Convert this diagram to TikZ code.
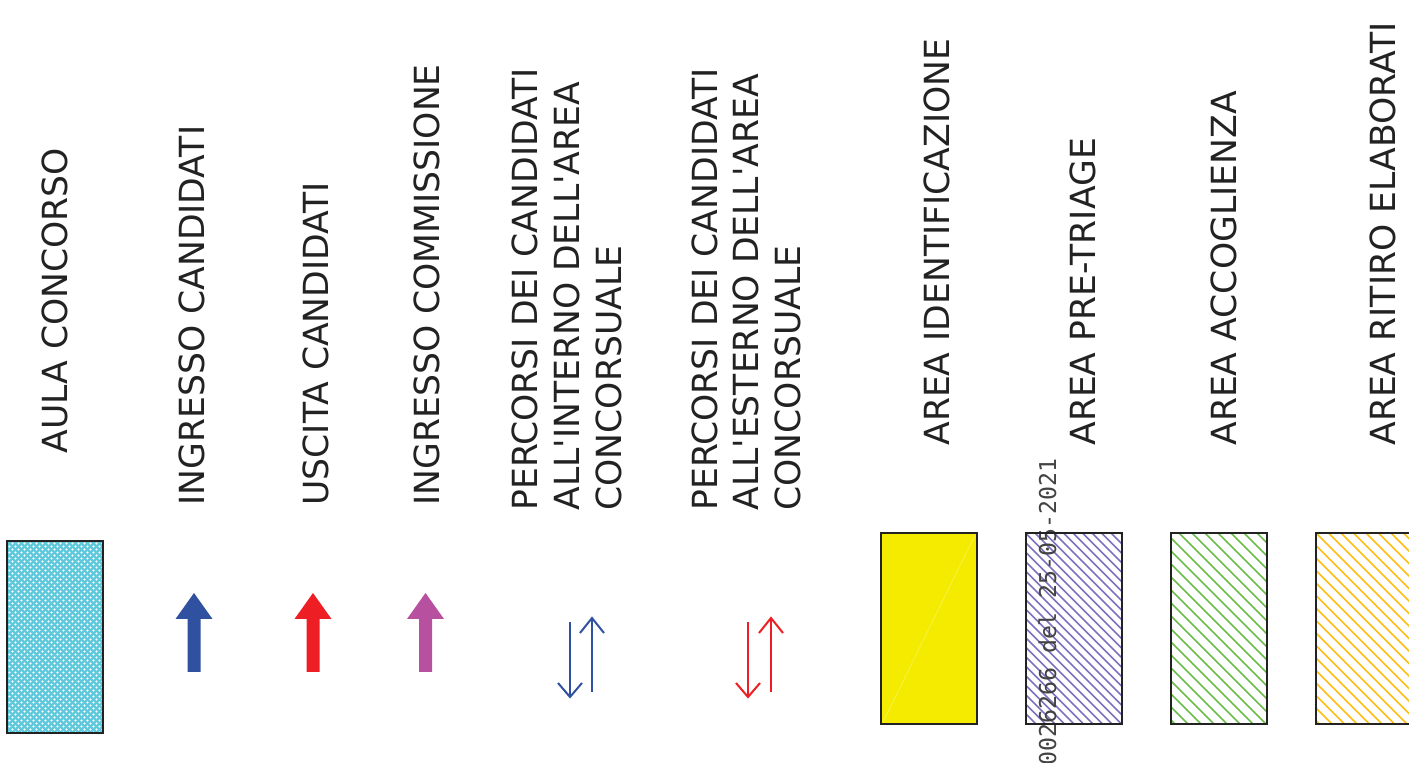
\documentclass[tikz,border=0pt]{standalone}
\usepackage{fontspec}
\setmainfont{DejaVu Sans}
\newfontfamily\wmfont{DejaVu Sans Mono}
\definecolor{txt}{RGB}{34,34,34}
\definecolor{bluearr}{RGB}{48,80,160}
\definecolor{redarr}{RGB}{237,30,36}
\definecolor{magarr}{RGB}{184,80,160}
\definecolor{cyanh}{RGB}{95,200,218}
\definecolor{yellowf}{RGB}{245,235,0}
\definecolor{purpleh}{RGB}{128,112,192}
\definecolor{greenh}{RGB}{108,190,74}
\definecolor{orangeh}{RGB}{255,190,20}
\tikzset{
  lbl/.style={rotate=90, anchor=base west, inner sep=0pt, text=txt,
              font=\fontsize{17.3}{21}\selectfont},
  boxborder/.style={draw=txt, line width=1, fill=none},
  thinarr/.style={line width=1, line cap=butt, line join=miter},
  hatch/.style={line width=0.75},
  mesh/.style={cyanh, line width=1.1},
}
\begin{document}
\begin{tikzpicture}[x=0.5pt, y=-0.5pt]
\clip (0,0) rectangle (1409,763);
\fill[white] (0,0) rectangle (1409,763);

% ---- labels ----
\node[lbl] (t1) at (68,454) {AULA CONCORSO};
\node[lbl] (t2) at (204,506) {INGRESSO CANDIDATI};
\node[lbl] (t3) at (328,506) {USCITA CANDIDATI};
\node[lbl] (t4) at (439,506) {INGRESSO COMMISSIONE};
\node[lbl] (t5a) at (537,511) {PERCORSI DEI CANDIDATI};
\node[lbl] (t5b) at (579,511) {ALL\textquotesingle INTERNO DELL\textquotesingle AREA};
\node[lbl] (t5c) at (621,511) {CONCORSUALE};
\node[lbl] (t6a) at (717,511) {PERCORSI DEI CANDIDATI};
\node[lbl] (t6b) at (758,511) {ALL\textquotesingle ESTERNO DELL\textquotesingle AREA};
\node[lbl] (t6c) at (800,511) {CONCORSUALE};
\node[lbl] (t7) at (949,446) {AREA IDENTIFICAZIONE};
\node[lbl] (t8) at (1095,446) {AREA PRE-TRIAGE};
\node[lbl] (t9) at (1236,446) {AREA ACCOGLIENZA};
\node[lbl] (t10) at (1395,446) {AREA RITIRO ELABORATI};

% ---- aula concorso: cyan mesh ----
\begin{scope}
  \clip (7,541) rectangle (103,733);
  \foreach \c in {-732,-726,...,-430} {
    \draw[mesh] (\c+541,541) -- (\c+733,733);
  }
  \foreach \c in {0,6,...,330} {
    \draw[mesh] (\c,541) -- (\c-192,733);
  }
\end{scope}
\draw[boxborder] (7,541) rectangle (103,733);

% ---- block arrows ----
\fill[bluearr] (194,593) -- (212.5,619) -- (200.5,619) -- (200.5,672) -- (187.5,672) -- (187.5,619) -- (175.5,619) -- cycle;
\fill[redarr] (313,593) -- (331.5,619) -- (319.5,619) -- (319.5,672) -- (306.5,672) -- (306.5,619) -- (294.5,619) -- cycle;
\fill[magarr] (425.5,593) -- (444,619) -- (432,619) -- (432,672) -- (419,672) -- (419,619) -- (407,619) -- cycle;

% ---- thin double arrows ----
\draw[thinarr, bluearr] (570,622) -- (570,696);
\draw[thinarr, bluearr] (558,683) -- (570,697) -- (582,683);
\draw[thinarr, bluearr] (592,692) -- (592,619);
\draw[thinarr, bluearr] (580,633) -- (592,618) -- (604,633);
\draw[thinarr, redarr] (748,622) -- (748,696);
\draw[thinarr, redarr] (736,683) -- (748,697) -- (760,683);
\draw[thinarr, redarr] (771,692) -- (771,619);
\draw[thinarr, redarr] (759,633) -- (771,618) -- (783,633);

% ---- area identificazione ----
\fill[yellowf] (881,533) rectangle (977,724);
\draw[white, opacity=0.35, line width=0.3] (883,722) -- (975,535);
\draw[boxborder] (881,533) rectangle (977,724);

% ---- area pre-triage: purple hatch ----
\begin{scope}
  \clip (1026,533) rectangle (1122,724);
  \foreach \c in {-200,-190.5,...,100} {
    \draw[purpleh, hatch] (1026+\c,533) -- (1026+\c+191,724);
  }
\end{scope}
% ---- area accoglienza: green hatch ----
\begin{scope}
  \clip (1171,533) rectangle (1267,724);
  \foreach \c in {-200,-187,...,100} {
    \draw[greenh, hatch] (1171+\c,533) -- (1171+\c+191,724);
  }
\end{scope}
% ---- area ritiro elaborati: orange hatch ----
\begin{scope}
  \clip (1316,533) rectangle (1412,724);
  \foreach \c in {-200,-187.5,...,100} {
    \draw[orangeh, hatch] (1316+\c,533) -- (1316+\c+191,724);
  }
\end{scope}

% ---- watermark ----
\node[rotate=90, anchor=base east, inner sep=0pt, text=txt!85,
      font=\wmfont\fontsize{11.6}{14}\selectfont] (wm) at (1056,458) {0026266 del 25-05-2021};

\draw[boxborder] (1026,533) rectangle (1122,724);
\draw[boxborder] (1171,533) rectangle (1267,724);
\draw[boxborder] (1316,533) rectangle (1412,724);
\end{tikzpicture}
\end{document}
